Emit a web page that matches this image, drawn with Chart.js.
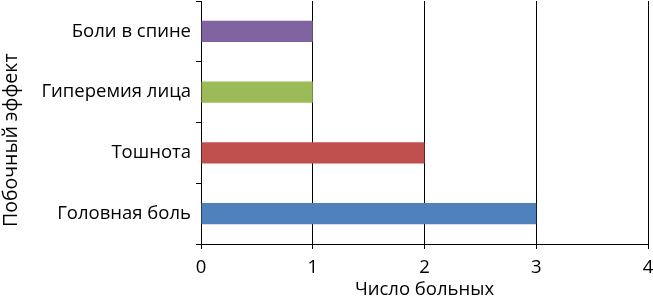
<!DOCTYPE html>
<html lang="ru">
<head>
<meta charset="UTF-8">
<title>Побочный эффект</title>
<script src="https://cdn.jsdelivr.net/npm/chart.js"></script>
<style>
    html, body { margin: 0; padding: 0; background: #fff; }
    #wrap { width: 653px; height: 297px; position: relative; }
</style>
</head>
<body>
<div id="wrap"><canvas id="chart"></canvas></div>
<script>
    // данные (сверху вниз, как на рисунке)
    const effects = ['Боли в спине', 'Гиперемия лица', 'Тошнота', 'Головная боль'];
    const patients = [1, 1, 2, 3];
    const barColors = ['#8064A2', '#9BBB59', '#C0504D', '#4F81BD'];
    const xTicks = [0, 1, 2, 3, 4];

    const font = { family: '"Open Sans", sans-serif', size: 18.5 };
    const titleFont = { family: '"Open Sans", sans-serif', size: 19.5 };

    new Chart(document.getElementById('chart'), {
        type: 'bar',
        data: {
            labels: effects,
            datasets: [{
                data: patients,
                backgroundColor: barColors,
                borderWidth: 0,
                barPercentage: 0.35,
                categoryPercentage: 1
            }]
        },
        options: {
            indexAxis: 'y',
            responsive: true,
            maintainAspectRatio: false,
            animation: false,
            layout: { padding: { top: 1, right: 5, left: 0, bottom: 0 } },
            plugins: { legend: { display: false }, tooltip: { enabled: false } },
            scales: {
                x: {
                    min: xTicks[0],
                    max: xTicks[xTicks.length - 1],
                    afterBuildTicks: s => { s.ticks = xTicks.map(v => ({ value: v })); },
                    ticks: { color: '#000', font: font, padding: 8 },
                    grid: { color: '#000', lineWidth: 1, tickLength: 5 },
                    border: { color: '#000', width: 1 },
                    title: { display: true, text: 'Число больных', color: '#000', font: font, padding: { top: 0, bottom: -4 } },
                    afterFit: s => { s.height = 53; s.paddingLeft = 0; s.paddingRight = 0; }
                },
                y: {
                    ticks: { color: '#000', font: font, padding: 5 },
                    grid: { drawOnChartArea: false, color: '#000', tickLength: 5, offset: true },
                    border: { color: '#000', width: 1 },
                    // хвостовые пробелы сдвигают подпись вниз, как в оригинале
                    title: { display: true, text: 'Побочный эффект       ', color: '#000', font: titleFont, padding: 0 },
                    afterFit: s => { s.width = 201; s.paddingTop = 0; s.paddingBottom = 0; }
                }
            }
        }
    });
</script>
</body>
</html>
